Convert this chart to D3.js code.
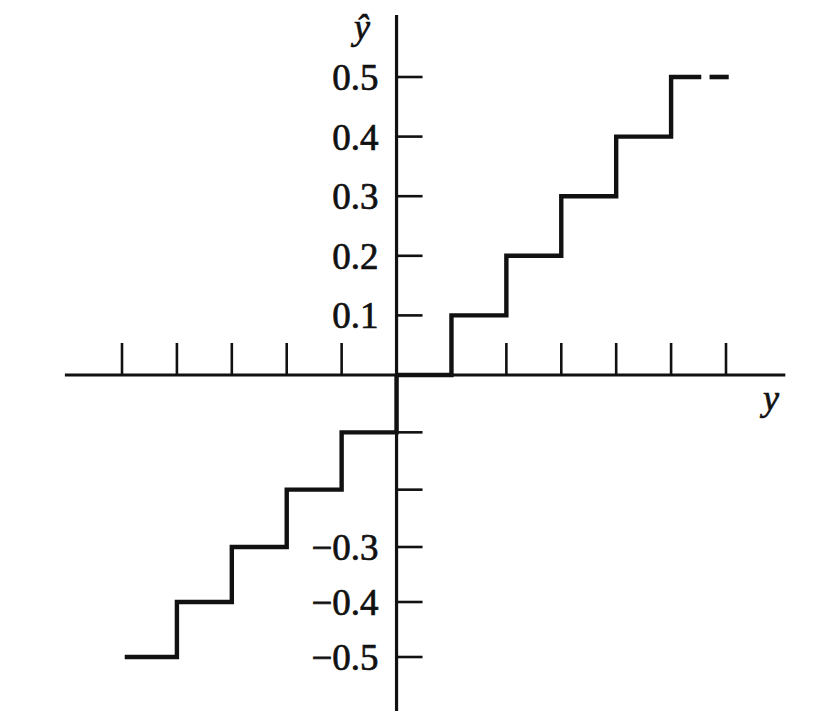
<!DOCTYPE html>
<html>
<head>
<meta charset="utf-8">
<script src="https://cdn.jsdelivr.net/npm/d3@7"></script>
<style>
  html, body { margin: 0; padding: 0; background: #fff; }
  svg { display: block; }
  text { font-family: "Liberation Serif", "DejaVu Serif", serif; fill: #111; stroke: #111; stroke-width: 0.7px; }
</style>
</head>
<body>
<svg id="chart" width="819" height="726"></svg>
<script>
// ---- data ----
const xTicks = [-0.5, -0.4, -0.3, -0.2, -0.1, 0.1, 0.2, 0.3, 0.4, 0.5, 0.6];
const yTicks = [-0.5, -0.4, -0.3, -0.2, -0.1, 0.1, 0.2, 0.3, 0.4, 0.5];
const yTickLabels = ["\u22120.5", "\u22120.4", "\u22120.3", "", "", "0.1", "0.2", "0.3", "0.4", "0.5"];
// positive branch: input thresholds and quantized outputs
const posInput  = [0, 0.1, 0.2, 0.3, 0.4, 0.5, 0.555];
const posOutput = [0, 0.1, 0.2, 0.3, 0.4, 0.5, 0.5];
// dashed continuation
const dashInput  = [0.57, 0.605];
const dashOutput = [0.5, 0.5];
// negative branch
const negInput  = [0, 0, -0.1, -0.2, -0.3, -0.4, -0.495];
const negOutput = [0, -0.1, -0.2, -0.3, -0.4, -0.5, -0.5];
const xAxisExtent = [-0.604, 0.708];
const yAxisExtent = [-0.598, 0.604];

// ---- scales ----
const svg = d3.select("#chart");
const x = d3.scaleLinear().domain([-0.5, 0.6]).range([122, 726]);
const y = d3.scaleLinear().domain([-0.5, -0.3, 0, 0.5]).range([657, 547, 375, 77]);
const ink = "#111";

// axes lines
svg.append("line")
  .attr("x1", x(xAxisExtent[0])).attr("x2", x(xAxisExtent[1]))
  .attr("y1", y(0)).attr("y2", y(0))
  .attr("stroke", ink).attr("stroke-width", 3.2);
svg.append("line")
  .attr("x1", x(0)).attr("x2", x(0))
  .attr("y1", y(yAxisExtent[0])).attr("y2", y(yAxisExtent[1]))
  .attr("stroke", ink).attr("stroke-width", 3.2);

// x ticks (upward)
svg.append("g").selectAll("line").data(xTicks).join("line")
  .attr("x1", d => x(d)).attr("x2", d => x(d))
  .attr("y1", y(0)).attr("y2", y(0) - 32)
  .attr("stroke", ink).attr("stroke-width", 2.6);

// y ticks (to the right)
svg.append("g").selectAll("line").data(yTicks).join("line")
  .attr("x1", x(0)).attr("x2", x(0) + 26)
  .attr("y1", d => y(d)).attr("y2", d => y(d))
  .attr("stroke", ink).attr("stroke-width", 2.6);

// y tick labels
svg.append("g").selectAll("text").data(yTicks).join("text")
  .attr("x", x(0) - 18)
  .attr("y", d => y(d))
  .attr("dy", "0.35em")
  .attr("text-anchor", "end")
  .attr("font-size", 37)
  .text((d, i) => yTickLabels[i]);

// staircase
const line = d3.line().x(d => x(d[0])).y(d => y(d[1])).curve(d3.curveStepAfter);
svg.append("path")
  .attr("d", line(posInput.map((v, i) => [v, posOutput[i]])))
  .attr("fill", "none").attr("stroke", ink).attr("stroke-width", 4.4)
  .attr("stroke-linejoin", "miter");
svg.append("path")
  .attr("d", line(negInput.map((v, i) => [v, negOutput[i]])))
  .attr("fill", "none").attr("stroke", ink).attr("stroke-width", 4.4)
  .attr("stroke-linejoin", "miter");
svg.append("path")
  .attr("d", d3.line().x(d => x(d[0])).y(d => y(d[1]))(dashInput.map((v, i) => [v, dashOutput[i]])))
  .attr("fill", "none").attr("stroke", ink).attr("stroke-width", 4.6);

// axis labels
svg.append("text")
  .attr("x", 771).attr("y", 410)
  .attr("text-anchor", "middle")
  .attr("font-size", 36).attr("font-style", "italic")
  .text("y");
svg.append("text")
  .attr("x", 362).attr("y", 39)
  .attr("text-anchor", "middle")
  .attr("font-size", 36).attr("font-style", "italic")
  .text("\u0177");
</script>
</body>
</html>
